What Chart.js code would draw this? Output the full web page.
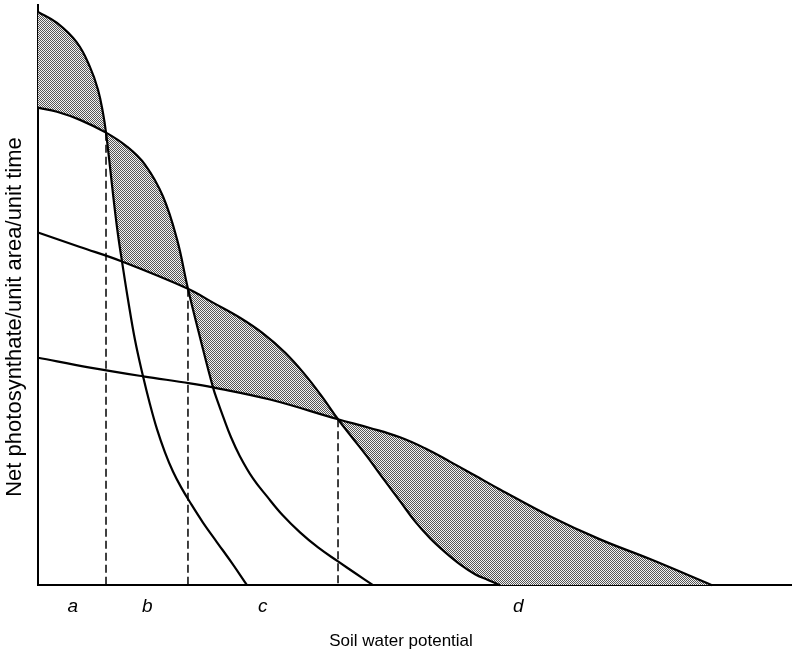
<!DOCTYPE html>
<html>
<head>
<meta charset="utf-8">
<title>Net photosynthate vs soil water potential</title>
<script src="https://cdn.jsdelivr.net/npm/chart.js@4/dist/chart.umd.min.js"></script>
<style>
  html, body { margin: 0; padding: 0; background: #fff; }
  canvas { display: block; }
</style>
</head>
<body>
<canvas id="chart" width="792" height="658"></canvas>
<script>
// Four response curves of net photosynthate against soil water potential
// (relative units, 0–100 on both axes).
const curve1X = [0, 2.52, 5.17, 6.90, 7.96, 8.62, 9.02, 9.55, 10.08, 10.61, 11.14, 11.94, 12.86, 13.93, 14.85, 15.78, 16.84, 17.90, 18.97, 20.16, 21.88, 23.74, 25.73, 27.72];
const curve1Y = [98.8, 96.9, 93.5, 89.3, 85.4, 81.4, 78.0, 72.1, 65.9, 60.4, 55.8, 49.2, 42.3, 36.0, 31.2, 26.9, 22.9, 19.6, 16.9, 14.3, 10.8, 7.4, 3.8, 0];

const curve2X = [0, 2.52, 5.57, 9.02, 11.80, 14.19, 16.58, 18.44, 19.89, 21.49, 23.21, 23.87, 24.54, 25.60, 26.79, 28.51, 30.37, 32.49, 34.75, 37.14, 39.79, 42.04, 44.43];
const curve2Y = [82.3, 81.6, 80.2, 78.0, 75.6, 72.5, 67.0, 59.6, 51.1, 42.7, 34.1, 31.5, 29.1, 25.5, 22.2, 18.4, 15.3, 12.0, 9.1, 6.5, 4.1, 2.1, 0];

const curve3X = [0, 5.57, 11.14, 19.89, 23.21, 26.79, 29.84, 32.76, 35.41, 37.67, 39.79, 41.64, 43.63, 45.76, 48.01, 50.00, 51.99, 53.98, 55.97, 57.96, 59.68, 61.27];
const curve3Y = [60.8, 58.3, 55.8, 51.1, 48.7, 46.1, 43.4, 40.1, 36.3, 32.5, 28.6, 25.5, 22.2, 18.4, 14.5, 11.0, 8.1, 5.7, 3.6, 1.9, 0.9, 0];

const curve4X = [0, 6.90, 13.93, 20.16, 23.21, 30.77, 39.79, 44.03, 48.01, 51.33, 54.64, 57.96, 61.27, 67.90, 74.54, 81.17, 89.39];
const curve4Y = [39.2, 37.5, 36.0, 34.8, 34.1, 32.0, 28.6, 27.1, 25.5, 23.6, 21.3, 18.9, 16.5, 11.9, 7.9, 4.5, 0];

// Where neighbouring curves cross (dropped to the axis as dashed lines)
const crossX = [9.02, 19.89, 39.79];
const crossY = [78.0, 51.1, 28.6];

// Range labels along the soil water potential axis
const regionLabels = ['a', 'b', 'c', 'd'];
const regionCentres = [4.6, 14.5, 29.8, 63.7];

const FONT = '"Liberation Sans", Arial, Helvetica, sans-serif';

const toPoints = (xs, ys) => xs.map((x, i) => ({ x, y: ys[i] }));
const curveSets = [
  toPoints(curve1X, curve1Y),
  toPoints(curve2X, curve2Y),
  toPoints(curve3X, curve3Y),
  toPoints(curve4X, curve4Y)
];

// Fine halftone used for the shaded band
function stippleTile() {
  const t = document.createElement('canvas');
  t.width = 2; t.height = 2;
  const g = t.getContext('2d');
  g.fillStyle = '#f2f2f2';
  g.fillRect(0, 0, 2, 2);
  g.fillStyle = '#555555';
  g.fillRect(0, 0, 1, 1);
  g.fillRect(1, 1, 1, 1);
  return t;
}

// Shades the band between the highest curve and the next one below it:
// the area under one curve that lies above every other curve.
const shadeTopBand = {
  id: 'shadeTopBand',
  beforeDatasetsDraw(chart) {
    const { ctx, chartArea: area, scales: { y } } = chart;
    const base = y.getPixelForValue(0);
    const lines = curveSets.map((_, i) => chart.getDatasetMeta(i).dataset);
    lines.forEach(l => l.updateControlPoints(area, 'x'));
    const pattern = ctx.createPattern(stippleTile(), 'repeat');

    lines.forEach((line, i) => {
      ctx.save();
      const p = line.points;
      ctx.beginPath();
      line.path(ctx);
      ctx.lineTo(p[p.length - 1].x, base);
      ctx.lineTo(p[0].x, base);
      ctx.closePath();
      ctx.clip();

      lines.forEach((other, j) => {
        if (j === i) return;
        const q = other.points;
        ctx.beginPath();
        other.path(ctx);
        ctx.lineTo(area.right + 4, base);
        ctx.lineTo(area.right + 4, area.top - 4);
        ctx.lineTo(q[0].x - 4, area.top - 4);
        ctx.lineTo(q[0].x - 4, q[0].y);
        ctx.closePath();
        ctx.clip();
      });

      ctx.fillStyle = pattern;
      ctx.fillRect(area.left - 4, area.top - 4, area.right - area.left + 8, base - area.top + 8);
      ctx.restore();
    });
  }
};

// Axis captions, placed freely (the vertical one is rotated)
const axisCaptions = {
  id: 'axisCaptions',
  afterDraw(chart, args, opts) {
    const { ctx } = chart;
    opts.items.forEach(item => {
      ctx.save();
      ctx.translate(item.x, item.y);
      ctx.rotate(item.angle || 0);
      ctx.font = item.font;
      ctx.fillStyle = opts.color;
      ctx.textAlign = 'center';
      ctx.textBaseline = 'middle';
      ctx.fillText(item.text, 0, 0);
      ctx.restore();
    });
  }
};

const curveDatasets = curveSets.map(pts => ({
  data: pts,
  borderColor: '#000',
  borderWidth: 2.2,
  pointRadius: 0,
  tension: 0.4,
  fill: false,
  clip: false
}));

const dropDatasets = crossX.map((x, k) => ({
  data: [{ x, y: crossY[k] }, { x, y: 0 }],
  borderColor: '#000',
  borderWidth: 1.5,
  borderDash: [8, 4],
  pointRadius: 0,
  fill: false
}));

new Chart(document.getElementById('chart'), {
  type: 'line',
  data: { datasets: [...curveDatasets, ...dropDatasets] },
  options: {
    responsive: false,
    animation: false,
    events: [],
    layout: { padding: { left: 38, top: 5, right: 0, bottom: 30 } },
    plugins: {
      legend: { display: false },
      tooltip: { enabled: false },
      axisCaptions: {
        color: '#000',
        items: [
          { text: 'Net photosynthate/unit area/unit time', x: 15, y: 317, angle: -Math.PI / 2, font: '22px ' + FONT },
          { text: 'Soil water potential', x: 401, y: 641, font: '17px ' + FONT }
        ]
      }
    },
    scales: {
      x: {
        type: 'linear',
        min: 0,
        max: 100,
        grid: { display: false, drawTicks: false },
        border: { display: true, color: '#000', width: 2 },
        afterBuildTicks: scale => {
          scale.ticks = regionCentres.map(v => ({ value: v }));
        },
        ticks: {
          autoSkip: false,
          maxRotation: 0,
          padding: 10,
          color: '#000',
          font: { family: FONT, size: 19, style: 'italic' },
          callback: (value, index) => regionLabels[index]
        }
      },
      y: {
        type: 'linear',
        min: 0,
        max: 100,
        grid: { display: false, drawTicks: false },
        border: { display: true, color: '#000', width: 2 },
        ticks: { display: false }
      }
    }
  },
  plugins: [shadeTopBand, axisCaptions]
});
</script>
</body>
</html>
